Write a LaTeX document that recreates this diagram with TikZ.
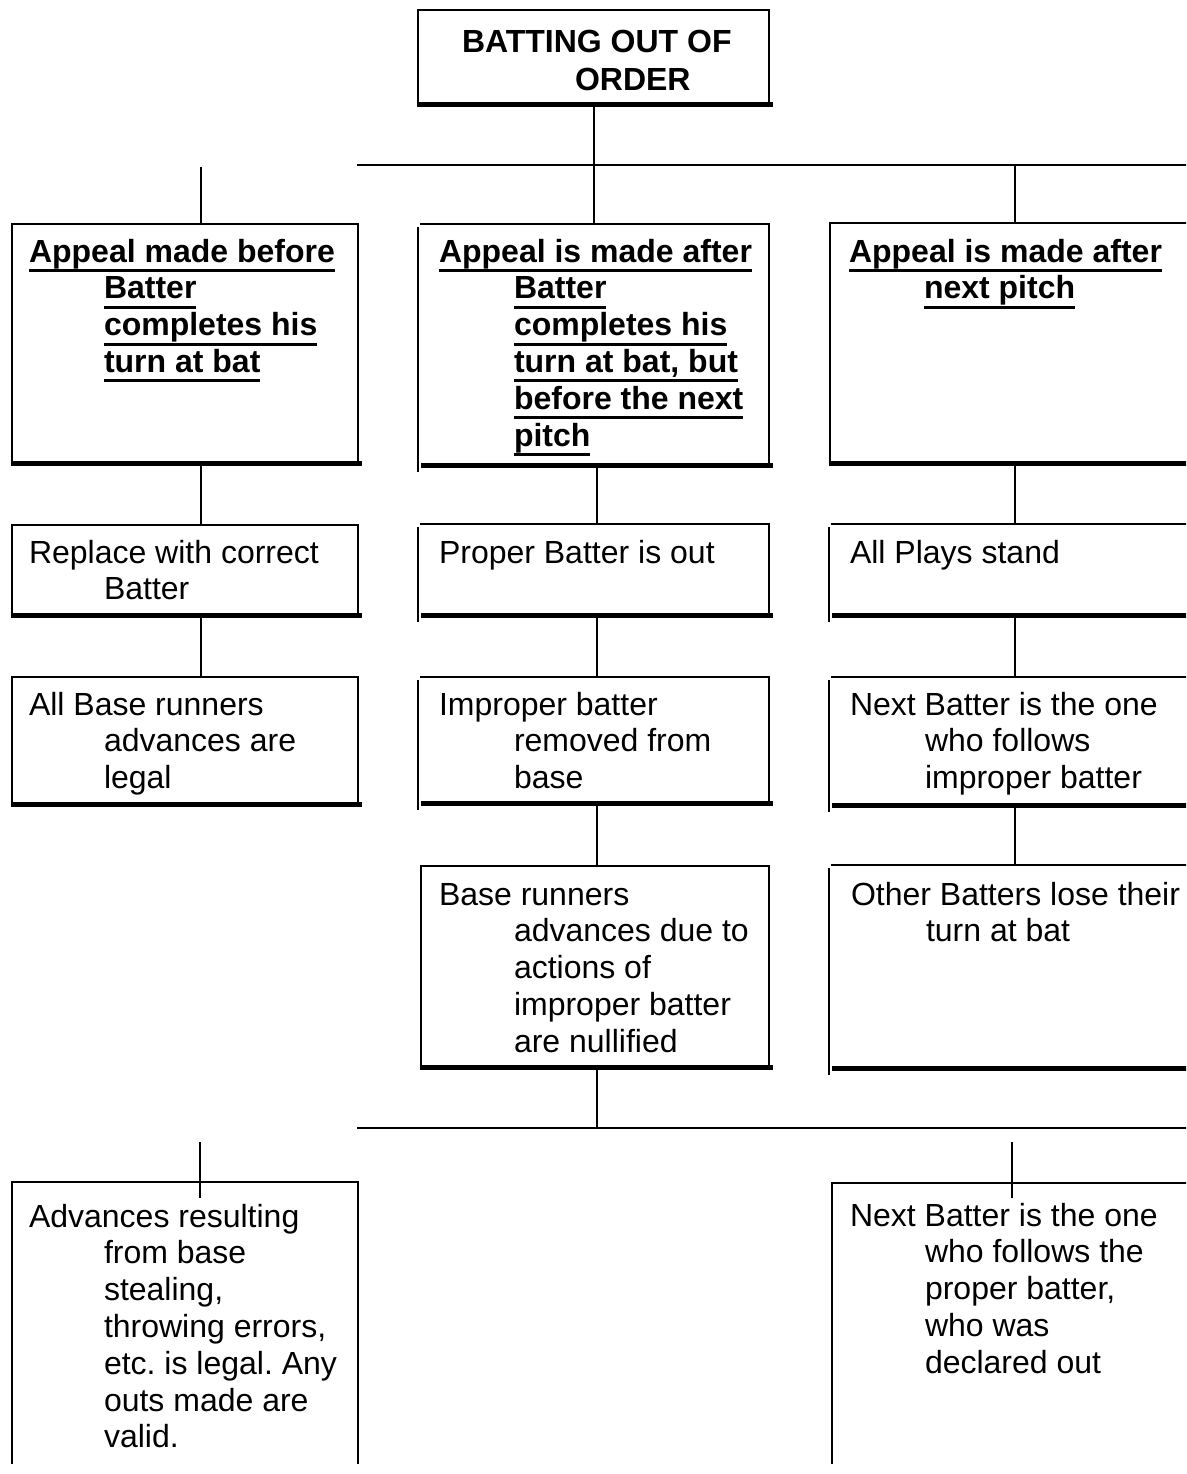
\documentclass[tikz,border=0pt]{standalone}
\usepackage{fontspec}
\setmainfont{Liberation Sans}
\frenchspacing
\newsavebox\ulbox
\newcommand\ulin[1]{\leavevmode\sbox\ulbox{#1}\rlap{\smash{\rule[-10pt]{\wd\ulbox}{3pt}}}\usebox\ulbox}
\newcommand\ind{\hspace*{75pt}}
\newcommand\txt[1]{\parbox[t]{360pt}{\fontsize{32}{36.8}\selectfont\frenchspacing\raggedright #1}}
\tikzset{
  thinl/.style={draw, line width=2.8pt, line cap=rect},
  thickl/.style={draw, line width=5pt},
  conn/.style={draw, line width=2.8pt},
  frame/.style={rectangle, inner sep=0pt, outer sep=0pt, draw=none},
  boxA/.style={frame, append after command={
    (\tikzlastnode.south west) edge[thinl] (\tikzlastnode.north west)
    (\tikzlastnode.north west) edge[thinl] (\tikzlastnode.north east)
    (\tikzlastnode.north east) edge[thinl] (\tikzlastnode.south east)
    ([xshift=-1.5pt]\tikzlastnode.south west) edge[thickl] ([xshift=4pt]\tikzlastnode.south east)}},
  boxB/.style={frame, append after command={
    ([xshift=-3pt,yshift=-4pt]\tikzlastnode.north west) edge[thinl] ([xshift=-3pt,yshift=-6pt]\tikzlastnode.south west)
    (\tikzlastnode.north west) edge[thinl] (\tikzlastnode.north east)
    (\tikzlastnode.north east) edge[thinl] (\tikzlastnode.south east)
    (\tikzlastnode.south west) edge[thickl] ([xshift=3.5pt]\tikzlastnode.south east)}},
  boxC/.style={frame, append after command={
    (\tikzlastnode.south west) edge[thinl] (\tikzlastnode.north west)
    (\tikzlastnode.north west) edge[thinl] (\tikzlastnode.north east)
    (\tikzlastnode.north east) edge[thinl] (\tikzlastnode.south east)}},
  txtn/.style={anchor=base west, inner sep=0pt, outer sep=0pt, text=black}
}
\begin{document}
\begin{tikzpicture}[x=1pt,y=1pt]
\path[use as bounding box, clip] (0,0) rectangle (1186,-1474);
\fill[white] (0,0) rectangle (1186,-1474);

% boxes
\node[boxA, minimum width=351pt, minimum height=95pt] (title) at (593.5,-57.5) {};
\node[boxA, minimum width=346pt, minimum height=239pt] (l1) at (185,-343.5) {};
\node[boxA, minimum width=346pt, minimum height=90pt] (l2) at (185,-570) {};
\node[boxA, minimum width=346pt, minimum height=127pt] (l3) at (185,-740.5) {};
\node[boxC, minimum width=346pt, minimum height=281pt] (l4) at (185,-1322.5) {};
\node[boxB, minimum width=348pt, minimum height=241pt] (m1) at (595,-344.5) {};
\node[boxB, minimum width=348pt, minimum height=91pt] (m2) at (595,-569.5) {};
\node[boxB, minimum width=348pt, minimum height=126pt] (m3) at (595,-740) {};
\node[boxA, minimum width=348pt, minimum height=201pt] (m4) at (595,-966.5) {};
\node[boxA, minimum width=370pt, minimum height=240pt] (r1) at (1015,-343) {};
\node[boxB, minimum width=366pt, minimum height=91pt] (r2) at (1015,-569.5) {};
\node[boxB, minimum width=366pt, minimum height=128pt] (r3) at (1015,-741) {};
\node[boxB, minimum width=366pt, minimum height=203pt] (r4) at (1015,-966.5) {};
\node[boxC, minimum width=366pt, minimum height=280pt] (r5) at (1015,-1323) {};

% texts
\node[txtn] (ttitle) at (462,-53) {\parbox[t]{360pt}{\fontsize{32}{38}\selectfont\bfseries\raggedright BATTING OUT OF\\\hspace*{113pt}ORDER}};
\node[txtn] (tl1) at (29,-262) {\txt{\bfseries\ulin{Appeal made before}\\\ind\ulin{Batter}\\\ind\ulin{completes his}\\\ind\ulin{turn at bat}}};
\node[txtn] (tm1) at (439,-262) {\txt{\bfseries\ulin{Appeal is made after}\\\ind\ulin{Batter}\\\ind\ulin{completes his}\\\ind\ulin{turn at bat, but}\\\ind\ulin{before the next}\\\ind\ulin{pitch}}};
\node[txtn] (tr1) at (849,-262) {\txt{\bfseries\ulin{Appeal is made after}\\\ind\ulin{next pitch}}};
\node[txtn] (tl2) at (29,-563) {\txt{Replace with correct\\\ind Batter}};
\node[txtn] (tm2) at (439,-563) {\txt{Proper Batter is out}};
\node[txtn] (tr2) at (850,-563) {\txt{All Plays stand}};
\node[txtn] (tl3) at (29,-715) {\txt{All Base runners\\\ind advances are\\\ind legal}};
\node[txtn] (tm3) at (439,-715) {\txt{Improper batter\\\ind removed from\\\ind base}};
\node[txtn] (tr3) at (850,-715) {\txt{Next Batter is the one\\\ind who follows\\\ind improper batter}};
\node[txtn] (tm4) at (439,-905) {\txt{Base runners\\\ind advances due to\\\ind actions of\\\ind improper batter\\\ind are nullified}};
\node[txtn] (tr4) at (851,-905) {\txt{Other Batters lose their\\\ind turn at bat}};
\node[txtn] (tl4) at (29,-1227) {\txt{Advances resulting\\\ind from base\\\ind stealing,\\\ind throwing errors,\\\ind etc. is legal. Any\\\ind outs made are\\\ind valid.}};
\node[txtn] (tr5) at (850,-1226) {\txt{Next Batter is the one\\\ind who follows the\\\ind proper batter,\\\ind who was\\\ind declared out}};

% bus coordinates
\coordinate (b1L) at (357,-165);
\coordinate (b1R) at (1190,-165);
\coordinate (b2L) at (357,-1128);
\coordinate (b2R) at (1190,-1128);
\coordinate (s1) at (201,-167);
\coordinate (t1a) at (200,-1142);
\coordinate (t1b) at (200,-1198);
\coordinate (t2a) at (1012,-1142);
\coordinate (t2b) at (1012,-1198);

% connectors
\draw[line width=2pt] (title.south) -- (title.south |- m1.north);
\draw[conn] (b1L) -- (b1R);
\draw[conn] (s1) -- (s1 |- l1.north);
\draw[conn] (r1.north |- b1L) -- (r1.north);
\draw[conn] ([xshift=16pt]l1.south) -- ([xshift=16pt]l2.north);
\draw[conn] ([xshift=16pt]l2.south) -- ([xshift=16pt]l3.north);
\draw[conn] ([xshift=2pt]m1.south) -- ([xshift=2pt]m2.north);
\draw[conn] ([xshift=2pt]m2.south) -- ([xshift=2pt]m3.north);
\draw[conn] ([xshift=2pt]m3.south) -- ([xshift=2pt]m4.north);
\draw[conn] ([xshift=2pt]m4.south) -- ([xshift=2pt]m4.south |- b2L);
\draw[conn] (r1.south) -- (r2.north);
\draw[conn] (r2.south) -- (r3.north);
\draw[conn] (r3.south) -- (r4.north);
\draw[conn] (b2L) -- (b2R);
\draw[conn] (t1a) -- (t1b);
\draw[conn] (t2a) -- (t2b);
\end{tikzpicture}
\end{document}
